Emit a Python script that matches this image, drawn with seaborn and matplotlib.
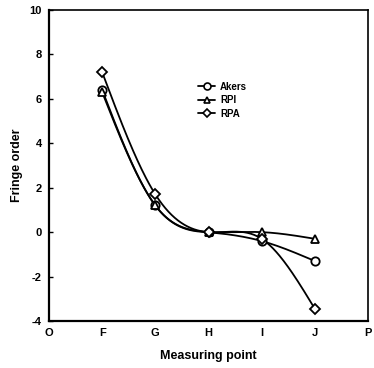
import numpy as np
import pandas as pd
import matplotlib
matplotlib.use("Agg")
import matplotlib.pyplot as plt
import seaborn as sns
from matplotlib.lines import Line2D

# ---- data ----
points = ["F", "G", "H", "I", "J"]
x_pos = [1, 2, 3, 4, 5]
akers = [6.4, 1.2, 0.0, -0.4, -1.3]
rpi = [6.3, 1.2, 0.0, 0.0, -0.3]
rpa = [7.2, 1.7, 0.0, -0.3, -3.45]
x_tick_labels = ["O", "F", "G", "H", "I", "J", "P"]
y_ticks = [-4, -2, 0, 2, 4, 6, 8, 10]
series_names = ["Akers", "RPI", "RPA"]
series_values = [akers, rpi, rpa]
markers = ["o", "^", "D"]
msizes = [6, 5.5, 5.5]


def natural_spline(x, y, n=200):
    x = np.asarray(x, float)
    y = np.asarray(y, float)
    k = len(x)
    h = np.diff(x)
    A = np.zeros((k, k))
    b = np.zeros(k)
    A[0, 0] = 1
    A[-1, -1] = 1
    for i in range(1, k - 1):
        A[i, i - 1] = h[i - 1]
        A[i, i] = 2 * (h[i - 1] + h[i])
        A[i, i + 1] = h[i]
        b[i] = 3 * ((y[i + 1] - y[i]) / h[i] - (y[i] - y[i - 1]) / h[i - 1])
    c = np.linalg.solve(A, b)
    xs = np.linspace(x[0], x[-1], n)
    ys = np.empty_like(xs)
    for j, xv in enumerate(xs):
        i = min(np.searchsorted(x, xv, side="right") - 1, k - 2)
        dx = xv - x[i]
        bi = (y[i + 1] - y[i]) / h[i] - h[i] * (2 * c[i] + c[i + 1]) / 3
        di = (c[i + 1] - c[i]) / (3 * h[i])
        ys[j] = y[i] + bi * dx + c[i] * dx ** 2 + di * dx ** 3
    return xs, ys


sns.set_theme(style="white", rc={"text.color": "black", "axes.labelcolor": "black",
                                  "xtick.color": "black", "ytick.color": "black"})
plt.rcParams["font.family"] = ["Liberation Sans Narrow", "Liberation Sans", "DejaVu Sans"]

fig = plt.figure(figsize=(3.74, 3.68), dpi=100)
ax_w = 368 - 49
ax = fig.add_axes([49 / 374, 1 - 321 / 368, ax_w / 374, (321 - 10) / 368])

for name, vals, m, ms in zip(series_names, series_values, markers, msizes):
    xs, ys = natural_spline(x_pos, vals)
    curve = pd.DataFrame({"x": xs, "y": ys})
    sns.lineplot(data=curve, x="x", y="y", ax=ax, color="black", lw=1.3,
                 estimator=None, sort=False)
    pts = pd.DataFrame({"x": x_pos, "y": vals})
    ax.plot(pts["x"], pts["y"], ls="none", marker=m, ms=ms, mfc="white",
            mec="black", mew=1.3, zorder=5)

ax.set_xlim(0, 6)
ax.set_ylim(-4, 10)
ax.set_xticks(range(len(x_tick_labels)))
ax.set_xticklabels(x_tick_labels)
ax.set_yticks(y_ticks)
ax.set_yticklabels([str(t) for t in y_ticks])
ax.tick_params(axis="y", direction="in", length=3, width=1, left=True, pad=5,
               labelsize=8)
ax.tick_params(axis="x", length=0, pad=5, labelsize=8)
for lab in ax.get_xticklabels() + ax.get_yticklabels():
    lab.set_fontweight("bold")
for s in ax.spines.values():
    s.set_color("black")
    s.set_linewidth(1.2)
ax.spines["left"].set_linewidth(1.6)
ax.spines["bottom"].set_linewidth(1.6)
ax.set_xlabel("Measuring point", fontsize=9, fontweight="bold", labelpad=9)
ax.set_ylabel("Fringe order", fontsize=9, fontweight="bold")
ax.yaxis.set_label_coords((23 - 49) / ax_w, 0.5)
ax.grid(False)

handles = [Line2D([0], [0], color="black", lw=1.3, marker=m, ms=ms - 1,
                  mfc="white", mec="black", mew=1.2)
           for m, ms in zip(markers, msizes)]
leg = ax.legend(handles, series_names, loc="upper left",
                bbox_to_anchor=((193 - 49) / ax_w, (321 - 77) / 311),
                frameon=False, fontsize=7, handlelength=1.8, handletextpad=0.5,
                labelspacing=0.35, borderpad=0)
for t in leg.get_texts():
    t.set_fontweight("bold")

fig.savefig("out.png", dpi=100)
